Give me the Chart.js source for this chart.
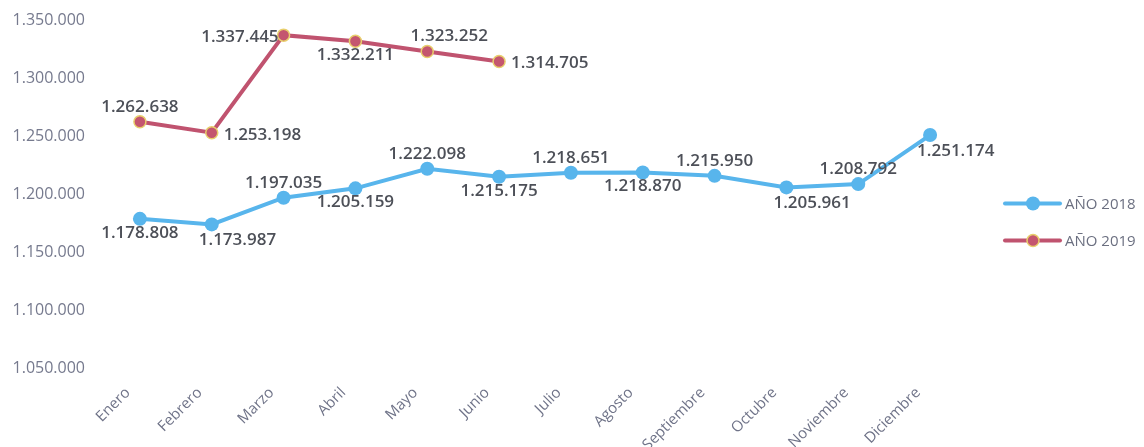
<!DOCTYPE html>
<html>
<head>
<meta charset="utf-8">
<script src="https://cdn.jsdelivr.net/npm/chart.js@4"></script>
<style>
  body { margin: 0; background: #fff; }
  #wrap { width: 1144px; height: 447px; position: relative; }
</style>
</head>
<body>
<div id="wrap"><canvas id="myChart"></canvas></div>
<script>
// Data
const months = ['Enero', 'Febrero', 'Marzo', 'Abril', 'Mayo', 'Junio', 'Julio',
    'Agosto', 'Septiembre', 'Octubre', 'Noviembre', 'Diciembre'];
const ano2018 = [1178808, 1173987, 1197035, 1205159, 1222098, 1215175, 1218651,
    1218870, 1215950, 1205961, 1208792, 1251174];
const ano2019 = [1262638, 1253198, 1337445, 1332211, 1323252, 1314705];
const seriesNames = ['AÑO 2018', 'AÑO 2019'];
const yMin = 1050000, yMax = 1350000, yStep = 50000;

// where each value label sits relative to its point
const place2018 = ['below', 'belowRight', 'above', 'below', 'above', 'below',
    'above', 'below', 'above', 'belowRight', 'above', 'belowRight'];
const place2019 = ['above', 'right', 'left', 'below', 'aboveRight', 'right'];

const blue = '#58b5ec';
const red = '#c0536f';

function fmt(v) {
    return String(v).replace(/\B(?=(\d{3})+(?!\d))/g, '.');
}

// draws the numbers next to the points
const valueLabels = {
    id: 'valueLabels',
    afterDatasetsDraw(chart) {
        const ctx = chart.ctx;
        ctx.save();
        ctx.font = '600 17px "Open Sans"';
        ctx.fillStyle = '#4d5058';
        chart.data.datasets.forEach((ds, i) => {
            let meta = chart.getDatasetMeta(i);
            meta.data.forEach((pt, j) => {
                let where = ds.labelPlace[j];
                let x = pt.x, y = pt.y;
                let text = fmt(ds.data[j]);
                ctx.textBaseline = 'middle';
                ctx.textAlign = 'center';
                if (where === 'above') { y -= 15; }
                else if (where === 'below') { y += 14; }
                else if (where === 'aboveRight') { x += 22; y -= 15; }
                else if (where === 'belowRight') { ctx.textAlign = 'left'; x -= 13; y += 16; }
                else if (where === 'right') { ctx.textAlign = 'left'; x += 12; y += 2; }
                else if (where === 'left') { ctx.textAlign = 'right'; x -= 5; y += 2; }
                ctx.fillText(text, x, y);
            });
        });
        ctx.restore();
    }
};

// legend on the right: line with a marker, then the name
const sideLegend = {
    id: 'sideLegend',
    afterDraw(chart) {
        const ctx = chart.ctx;
        let x0 = chart.chartArea.right + 39;
        chart.data.datasets.forEach((ds, i) => {
            let y = chart.height / 2 - 20 + i * 37;
            ctx.save();
            ctx.strokeStyle = ds.borderColor;
            ctx.lineWidth = 4;
            ctx.lineCap = 'round';
            ctx.beginPath();
            ctx.moveTo(x0, y);
            ctx.lineTo(x0 + 55, y);
            ctx.stroke();
            ctx.beginPath();
            ctx.arc(x0 + 28, y, ds.pointRadius, 0, Math.PI * 2);
            ctx.fillStyle = ds.pointBackgroundColor;
            ctx.fill();
            if (ds.pointBorderWidth) {
                ctx.lineWidth = ds.pointBorderWidth;
                ctx.strokeStyle = ds.pointBorderColor;
                ctx.stroke();
            }
            ctx.font = '15px "Open Sans"';
            ctx.fillStyle = '#6b6f80';
            ctx.textAlign = 'left';
            ctx.textBaseline = 'middle';
            ctx.fillText(ds.label, x0 + 60, y + 1);
            ctx.restore();
        });
    }
};

let ctx = document.getElementById('myChart').getContext('2d');
let myChart = new Chart(ctx, {
    type: 'line',
    data: {
        labels: months,
        datasets: [
            {
                label: seriesNames[0],
                data: ano2018,
                labelPlace: place2018,
                borderColor: blue,
                backgroundColor: blue,
                borderWidth: 4,
                pointRadius: 7,
                pointBackgroundColor: blue,
                pointBorderColor: blue,
                pointBorderWidth: 0,
                tension: 0
            },
            {
                label: seriesNames[1],
                data: ano2019,
                labelPlace: place2019,
                borderColor: red,
                backgroundColor: red,
                borderWidth: 4,
                pointRadius: 6,
                pointBackgroundColor: '#c4566f',
                pointBorderColor: '#e8cf6c',
                pointBorderWidth: 1.5,
                tension: 0
            }
        ]
    },
    options: {
        responsive: true,
        maintainAspectRatio: false,
        animation: false,
        layout: { padding: { top: 11, right: 178, left: 0, bottom: 0 } },
        plugins: {
            legend: { display: false },
            tooltip: { enabled: false }
        },
        scales: {
            x: {
                offset: true,
                grid: { display: false },
                border: { display: false },
                afterFit: function(scale) { scale.height = 79; },
                ticks: {
                    color: '#6f7388',
                    font: { family: 'Open Sans', size: 15 },
                    minRotation: 45,
                    maxRotation: 45,
                    padding: 8,
                    labelOffset: -12,
                    autoSkip: false
                }
            },
            y: {
                min: yMin,
                max: yMax,
                grid: { display: false },
                border: { display: false },
                afterFit: function(scale) { scale.width = 104; },
                ticks: {
                    stepSize: yStep,
                    color: '#767a8e',
                    font: { family: 'Open Sans', size: 16 },
                    padding: 11,
                    callback: function(value) { return fmt(value); }
                }
            }
        }
    },
    plugins: [valueLabels, sideLegend]
});
</script>
</body>
</html>
